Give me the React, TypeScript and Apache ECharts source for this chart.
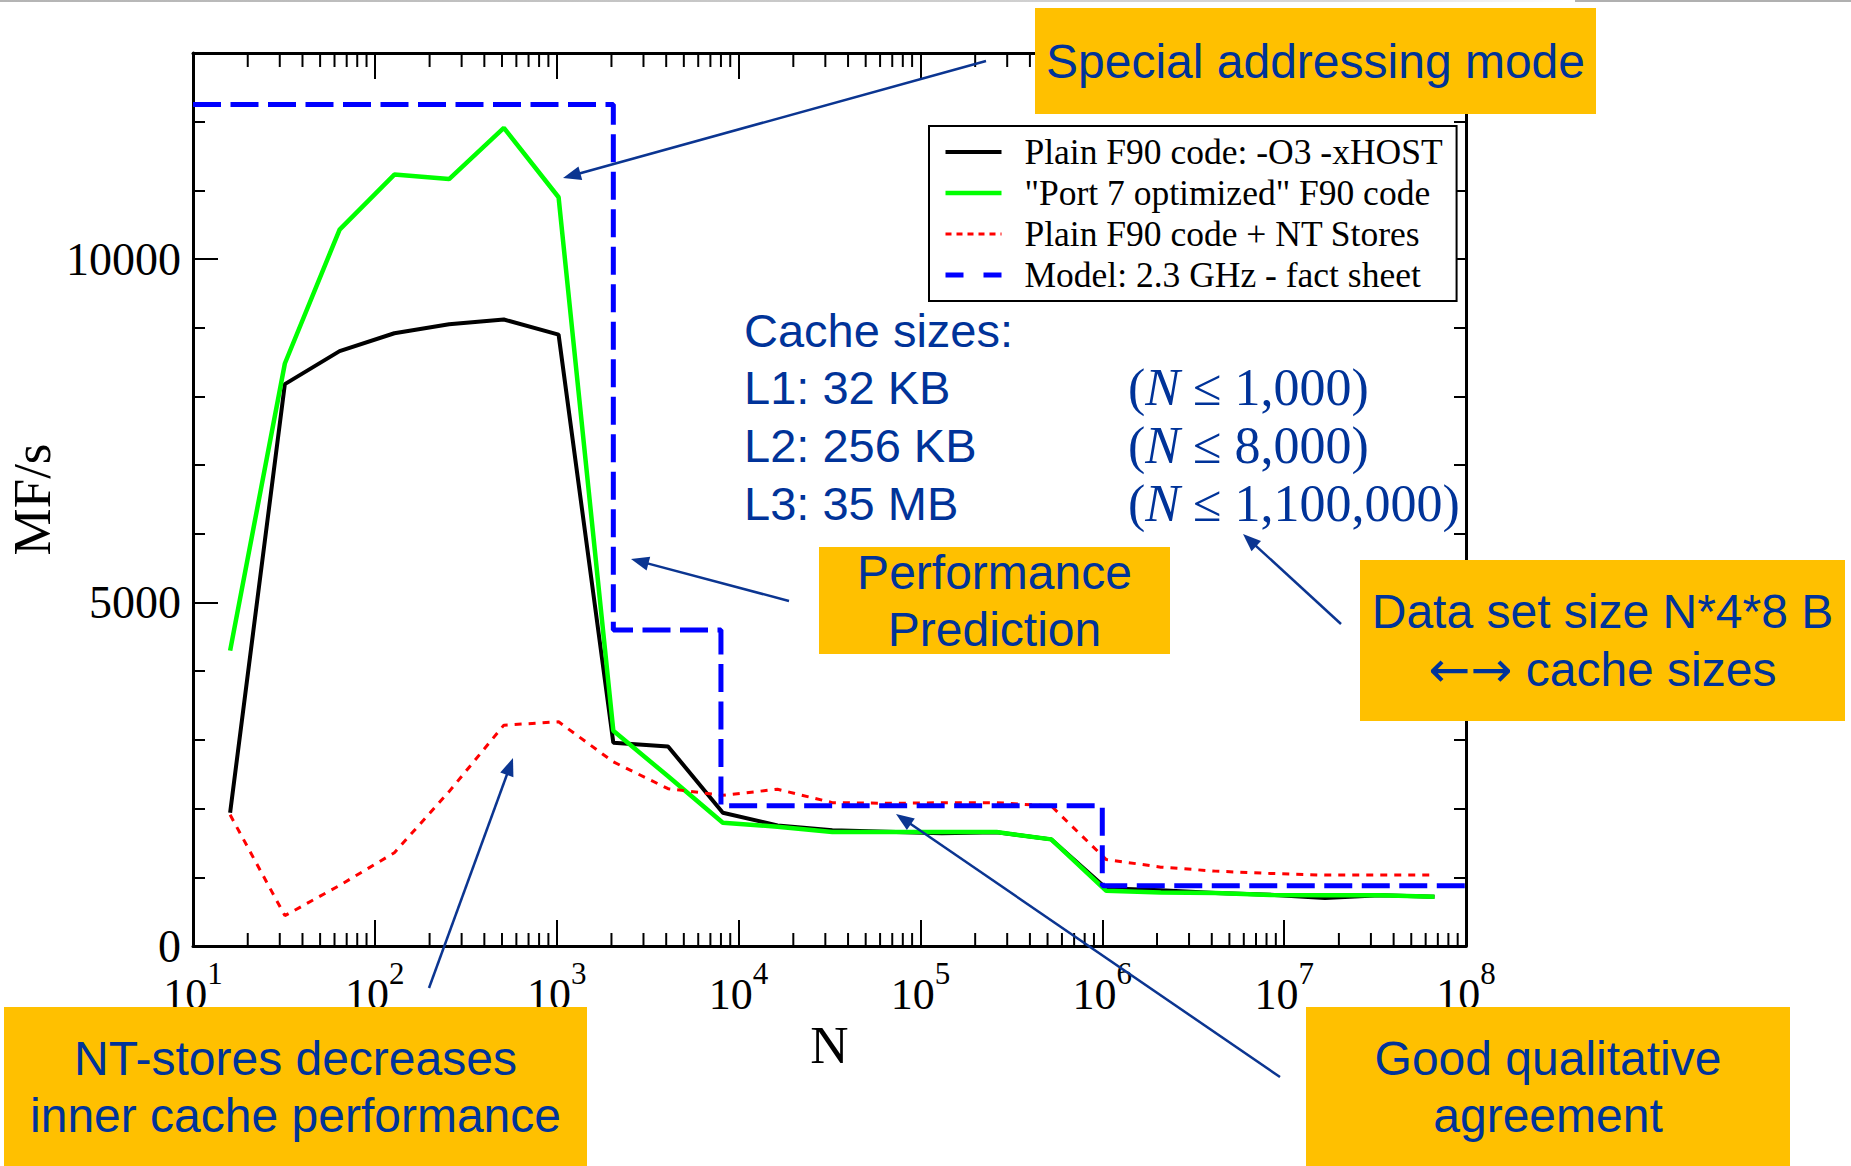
import React, { useEffect, useRef } from 'react';
import * as echarts from 'echarts';

// Problem sizes N (vector length) of the benchmark runs
const problemSizes = [
  16, 32, 64, 128, 256, 512, 1024, 2048, 4096, 8192, 16384, 32768, 65536,
  131072, 262144, 524288, 1048576, 2097152, 4194304, 8388608, 16777216,
  33554432, 67108864,
];

// Measured performance in MFlop/s
const plainF90 = [
  1940, 8180, 8660, 8920, 9050, 9120, 8900, 2960, 2905, 1940, 1756, 1685, 1665,
  1640, 1655, 1552, 840, 812, 770, 745, 700, 738, 716,
];
const port7Optimized = [
  4300, 8480, 10430, 11230, 11165, 11910, 10900, 3135, 2470, 1795, 1737, 1659,
  1659, 1659, 1659, 1552, 805, 778, 770, 742, 740, 738, 716,
];
const plainNtStores = [
  1910, 442, 882, 1358, 2248, 3215, 3264, 2680, 2290, 2194, 2282, 2087, 2077,
  2085, 2087, 2038, 1260, 1148, 1090, 1056, 1032, 1032, 1032,
];

// Model prediction: one level per cache (L1, L2, L3, memory)
const modelBreaks = [10, 2048, 8000, 1000000, 100000000];
const modelPerf = [12250, 4600, 2040, 877, 877];

const seriesNames = [
  'Plain F90 code: -O3 -xHOST',
  '"Port 7 optimized" F90 code',
  'Plain F90 code + NT Stores',
  'Model: 2.3 GHz - fact sheet',
];

const yMajorTicks = [0, 5000, 10000];
const decadeExponents = [1, 2, 3, 4, 5, 6, 7, 8];

const cacheLevels = ['L1: 32 KB', 'L2: 256 KB', 'L3: 35 MB'];
const cacheLimits = ['1,000', '8,000', '1,100,000'];

const SERIF = '"Liberation Serif", "Times New Roman", serif';
const SANS = '"Liberation Sans", Arial, sans-serif';
const BOX = '#FFC000';
const NAVY = '#003399';
const ARROW = '#0B3591';

function arrow(x1: number, y1: number, x2: number, y2: number) {
  const a = Math.atan2(y2 - y1, x2 - x1);
  const L = 18;
  const W = 7;
  const bx = x2 - L * Math.cos(a);
  const by = y2 - L * Math.sin(a);
  const sx = Math.sin(a);
  const cx = Math.cos(a);
  return [
    {
      type: 'line',
      z: 200,
      shape: { x1, y1, x2: bx + 2 * cx, y2: by + 2 * sx },
      style: { stroke: ARROW, lineWidth: 2.5 },
    },
    {
      type: 'polygon',
      z: 200,
      shape: {
        points: [
          [x2, y2],
          [bx + W * sx, by - W * cx],
          [bx - W * sx, by + W * cx],
        ],
      },
      style: { fill: ARROW },
    },
  ];
}

const boxRich = {
  t: { fontFamily: SANS, fontSize: 48, color: NAVY, fill: NAVY },
  a: { fontFamily: '"DejaVu Sans", sans-serif', fontSize: 50, color: NAVY, fill: NAVY },
};

function box(x: number, y: number, w: number, h: number, lines: string[], lineGap: number) {
  const cx = x + w / 2;
  const cy = y + h / 2;
  const n = lines.length;
  return [
    { type: 'rect', z: 150, shape: { x, y, width: w, height: h }, style: { fill: BOX } },
    ...lines.map((t, i) => ({
      type: 'text',
      z: 160,
      x: cx,
      y: cy + (i - (n - 1) / 2) * lineGap,
      style: {
        text: t.startsWith('{') ? t : `{t|${t}}`,
        rich: boxRich,
        align: 'center',
        verticalAlign: 'middle',
      },
    })),
  ];
}

function cacheRow(y: number, label: string, limit?: string) {
  const items: any[] = [
    {
      type: 'text',
      z: 120,
      x: 744,
      y,
      style: { text: label, font: `47px ${SANS}`, fill: NAVY, verticalAlign: 'middle' },
    },
  ];
  if (limit) {
    items.push({
      type: 'text',
      z: 120,
      x: 1128,
      y,
      style: {
        text: `{p|(}{i|N}{p| ≤ ${limit})}`,
        verticalAlign: 'middle',
        rich: {
          p: { fontFamily: SERIF, fontSize: 52, fill: NAVY, color: NAVY },
          i: { fontFamily: SERIF, fontSize: 52, fontStyle: 'italic', fill: NAVY, color: NAVY },
        },
      },
    });
  }
  return items;
}

export default function App() {
  const ref = useRef<HTMLDivElement>(null);

  useEffect(() => {
    if (!ref.current) return;
    const chart = echarts.init(ref.current, undefined, { renderer: 'svg' });

    const minorX: number[] = [];
    for (let k = 1; k < 8; k++) {
      for (let m = 2; m <= 9; m++) minorX.push(m * Math.pow(10, k));
    }

    const pairs = (ys: number[]) => problemSizes.map((n, i) => [n, ys[i]]);

    const xBase = {
      type: 'log',
      logBase: 10,
      min: 10,
      max: 100000000,
      splitNumber: 7,
      splitLine: { show: false },
      axisLine: { onZero: false, lineStyle: { color: '#000', width: 3 } },
      axisTick: { inside: true, length: 26, lineStyle: { color: '#000', width: 2 } },
    };
    const yBase = {
      type: 'value',
      min: 0,
      max: 13000,
      splitLine: { show: false },
    };

    const option: any = {
      animation: false,
      backgroundColor: '#fff',
      grid: { left: 193, top: 53, width: 1273, height: 893, outerBoundsMode: 'none', containLabel: false },
      legend: {
        orient: 'vertical',
        left: 929,
        top: 126,
        padding: [8, 14, 8, 14],
        itemWidth: 56,
        itemHeight: 14,
        itemGap: 5,
        backgroundColor: '#fff',
        borderColor: '#000',
        borderWidth: 2,
        borderRadius: 0,
        selectedMode: false,
        z: 50,
        lineStyle: { width: 'inherit' },
        itemStyle: { color: 'rgba(0,0,0,0)', borderWidth: 0, opacity: 0 },
        textStyle: {
          fontFamily: SERIF,
          fontSize: 35.5,
          lineHeight: 34,
          color: '#000',
          padding: [0, 0, 0, 18],
        },
        data: [
          { name: seriesNames[0] },
          { name: seriesNames[1] },
          { name: seriesNames[2], lineStyle: { type: [6, 5], width: 3 } },
          { name: seriesNames[3], lineStyle: { type: [18, 20], width: 5 } },
        ],
      },
      xAxis: [
        {
          ...xBase,
          position: 'bottom',
          name: 'N',
          nameLocation: 'middle',
          nameGap: 72,
          nameMoveOverlap: false,
          nameTextStyle: { fontFamily: SERIF, fontSize: 53, color: '#000' },
          axisLabel: {
            margin: 12,
            formatter: (v: number) => {
              const e = Math.round(Math.log10(v));
              return decadeExponents.includes(e) ? `{b|10}{s|${e}}` : '';
            },
            rich: {
              b: { fontFamily: SERIF, fontSize: 44, lineHeight: 73, color: '#000' },
              s: { fontFamily: SERIF, fontSize: 31, lineHeight: 30, color: '#000', padding: [0, 0, 43, 0] },
            },
          },
        },
        {
          ...xBase,
          position: 'top',
          axisLabel: { show: false },
        },
      ],
      yAxis: [
        {
          ...yBase,
          position: 'left',
          interval: 5000,
          name: 'MF/s',
          nameLocation: 'middle',
          nameRotate: 90,
          nameGap: 135,
          nameMoveOverlap: false,
          nameTextStyle: { fontFamily: SERIF, fontSize: 53, color: '#000' },
          axisLine: { show: true, onZero: false, lineStyle: { color: '#000', width: 3 } },
          axisTick: { show: true, inside: true, length: 25, lineStyle: { color: '#000', width: 2 } },
          axisLabel: {
            margin: 12,
            showMaxLabel: false,
            fontFamily: SERIF,
            fontSize: 46,
            color: '#000',
            formatter: (v: number) => (yMajorTicks.includes(v) ? String(v) : ''),
          },
        },
        {
          ...yBase,
          position: 'left',
          interval: 1000,
          axisLine: { show: false, onZero: false },
          axisTick: { show: true, inside: true, length: 12, lineStyle: { color: '#000', width: 2 } },
          axisLabel: { show: false },
        },
        {
          ...yBase,
          position: 'right',
          interval: 5000,
          axisLine: { show: true, onZero: false, lineStyle: { color: '#000', width: 3 } },
          axisTick: { show: true, inside: true, length: 25, lineStyle: { color: '#000', width: 2 } },
          axisLabel: { show: false },
        },
        {
          ...yBase,
          position: 'right',
          interval: 1000,
          axisLine: { show: false, onZero: false },
          axisTick: { show: true, inside: true, length: 12, lineStyle: { color: '#000', width: 2 } },
          axisLabel: { show: false },
        },
      ],
      series: [
        {
          type: 'custom',
          name: 'minor ticks',
          coordinateSystem: 'cartesian2d',
          silent: true,
          clip: false,
          data: minorX.map((v) => [v, 0]),
          renderItem: (params: any, api: any) => {
            const x = api.coord([api.value(0), 0])[0];
            const cs = params.coordSys;
            const top = cs.y;
            const bottom = cs.y + cs.height;
            return {
              type: 'group',
              children: [
                { type: 'line', shape: { x1: x, y1: bottom, x2: x, y2: bottom - 13 }, style: { stroke: '#000', lineWidth: 2 } },
                { type: 'line', shape: { x1: x, y1: top, x2: x, y2: top + 14 }, style: { stroke: '#000', lineWidth: 2 } },
              ],
            };
          },
        },
        {
          type: 'line',
          name: seriesNames[0],
          data: pairs(plainF90),
          symbol: 'none',
          lineStyle: { color: '#000', width: 4 },
          itemStyle: { color: '#000' },
        },
        {
          type: 'line',
          name: seriesNames[1],
          data: pairs(port7Optimized),
          symbol: 'none',
          lineStyle: { color: '#00FF00', width: 4.5 },
          itemStyle: { color: '#00FF00' },
        },
        {
          type: 'line',
          name: seriesNames[2],
          data: pairs(plainNtStores),
          symbol: 'none',
          lineStyle: { color: '#FF0000', width: 3, type: [7, 7] },
          itemStyle: { color: '#FF0000' },
        },
        {
          type: 'line',
          name: seriesNames[3],
          data: modelBreaks.map((n, i) => [n, modelPerf[i]]),
          step: 'end',
          symbol: 'none',
          lineStyle: { color: '#0000FF', width: 5, type: [28, 9.5] },
          itemStyle: { color: '#0000FF' },
        },
      ],
      graphic: [
        {
          type: 'rect',
          z: 100,
          shape: { x: 0, y: 0, width: 1572, height: 2 },
          style: {
            fill: new echarts.graphic.LinearGradient(0, 0, 1, 0, [
              { offset: 0, color: '#b4b4b4' },
              { offset: 0.85, color: '#d8d8d8' },
              { offset: 1, color: '#ffffff' },
            ]),
          },
        },
        { type: 'rect', z: 100, shape: { x: 1575, y: 0, width: 276, height: 2 }, style: { fill: '#b0b0b0' } },
        ...cacheRow(330, 'Cache sizes:'),
        ...cacheRow(387, cacheLevels[0], cacheLimits[0]),
        ...cacheRow(445, cacheLevels[1], cacheLimits[1]),
        ...cacheRow(503, cacheLevels[2], cacheLimits[2]),
        ...box(1035, 8, 561, 106, ['Special addressing mode'], 57),
        ...box(819, 547, 351, 107, ['Performance', 'Prediction'], 57),
        ...box(1360, 560, 485, 161, ['Data set size N*4*8 B', '{a|←→}{t| cache sizes}'], 58),
        ...box(4, 1007, 583, 159, ['NT-stores decreases', 'inner cache performance'], 57),
        ...box(1306, 1007, 484, 159, ['Good qualitative', 'agreement'], 57),
        ...arrow(986, 61, 563, 178),
        ...arrow(789, 601, 631, 559),
        ...arrow(1341, 624, 1243, 534),
        ...arrow(429, 988, 513, 758),
        ...arrow(1280, 1077, 896, 814),
      ],
    };

    chart.setOption(option);
    return () => chart.dispose();
  }, []);

  return (
    <div
      ref={ref}
      style={{ position: 'absolute', left: 0, top: 0, width: 1851, height: 1166, background: '#fff' }}
    />
  );
}
